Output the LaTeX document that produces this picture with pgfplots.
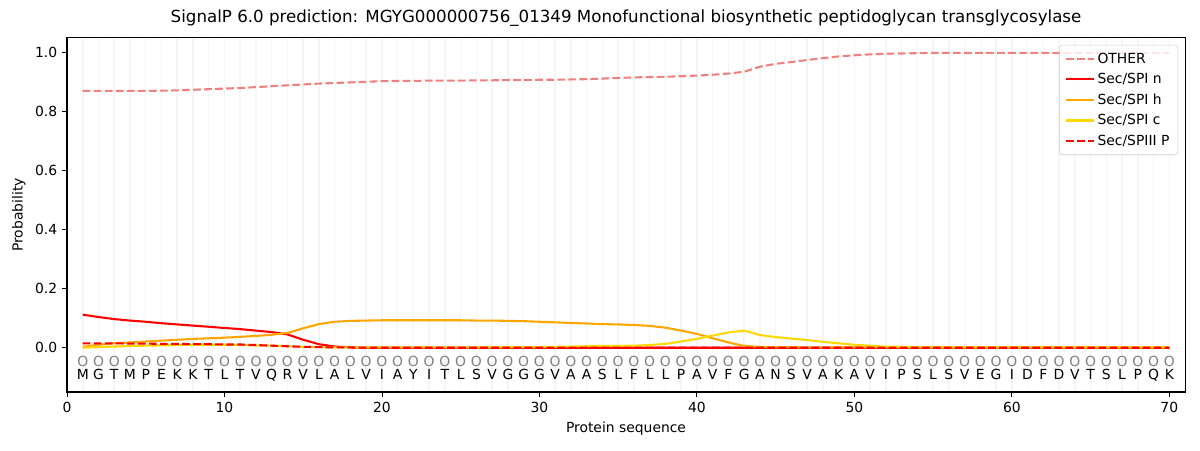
\documentclass[border=0pt]{standalone}
\usepackage{pgfplots}
\pgfplotsset{compat=1.18}
\usepackage{pgfplotstable}
\usepackage{fontspec}
\setmainfont{DejaVu Sans}
\definecolor{lcoral}{HTML}{F08080}
\definecolor{mplorange}{HTML}{FFA500}
\definecolor{mplgold}{HTML}{FFD700}

\pgfplotstableread{
x other n h c p
1 0.870 0.112 0.003 0.000 0.015
2 0.870 0.104 0.010 0.002 0.015
3 0.870 0.097 0.015 0.004 0.015
4 0.870 0.092 0.018 0.006 0.014
5 0.870 0.088 0.021 0.007 0.014
6 0.871 0.083 0.024 0.008 0.013
7 0.872 0.079 0.027 0.009 0.013
8 0.874 0.075 0.030 0.010 0.012
9 0.876 0.071 0.032 0.010 0.012
10 0.878 0.067 0.034 0.010 0.011
11 0.880 0.063 0.037 0.009 0.011
12 0.883 0.058 0.040 0.008 0.009
13 0.886 0.053 0.044 0.007 0.007
14 0.889 0.045 0.050 0.005 0.005
15 0.892 0.027 0.066 0.003 0.003
16 0.895 0.012 0.080 0.002 0.002
17 0.897 0.004 0.088 0.001 0.001
18 0.899 0.001 0.091 0.001 0.001
19 0.901 0.000 0.092 0.001 0.000
20 0.903 0.000 0.093 0.001 0.000
21 0.904 0.000 0.093 0.001 0.000
22 0.904 0.000 0.093 0.001 0.000
23 0.905 0.000 0.093 0.001 0.000
24 0.905 0.000 0.093 0.001 0.000
25 0.905 0.000 0.093 0.001 0.000
26 0.906 0.000 0.092 0.001 0.000
27 0.906 0.000 0.092 0.001 0.000
28 0.907 0.000 0.091 0.002 0.000
29 0.907 0.000 0.090 0.002 0.000
30 0.908 0.000 0.088 0.002 0.000
31 0.908 0.000 0.086 0.003 0.000
32 0.909 0.000 0.084 0.004 0.000
33 0.910 0.000 0.082 0.005 0.000
34 0.912 0.000 0.080 0.006 0.000
35 0.914 0.000 0.079 0.006 0.000
36 0.916 0.000 0.077 0.007 0.000
37 0.917 0.000 0.074 0.009 0.000
38 0.918 0.000 0.068 0.013 0.000
39 0.920 0.000 0.058 0.021 0.000
40 0.922 0.000 0.047 0.030 0.000
41 0.925 0.000 0.032 0.041 0.000
42 0.929 0.000 0.018 0.052 0.000
43 0.935 0.000 0.006 0.058 0.000
44 0.952 0.000 0.003 0.043 0.000
45 0.962 0.000 0.002 0.036 0.000
46 0.968 0.000 0.002 0.031 0.000
47 0.975 0.000 0.001 0.026 0.000
48 0.981 0.000 0.001 0.020 0.000
49 0.987 0.000 0.001 0.015 0.000
50 0.991 0.000 0.001 0.010 0.000
51 0.994 0.000 0.001 0.007 0.000
52 0.996 0.000 0.001 0.004 0.000
53 0.997 0.000 0.001 0.003 0.000
54 0.998 0.000 0.001 0.002 0.000
55 0.999 0.000 0.001 0.001 0.000
56 0.999 0.000 0.001 0.001 0.000
57 0.999 0.000 0.001 0.001 0.000
58 0.999 0.000 0.001 0.001 0.000
59 0.999 0.000 0.001 0.001 0.000
60 0.999 0.000 0.001 0.001 0.000
61 0.999 0.000 0.001 0.001 0.000
62 0.999 0.000 0.001 0.001 0.000
63 0.998 0.000 0.001 0.001 0.000
64 0.998 0.000 0.001 0.001 0.000
65 0.998 0.000 0.001 0.001 0.000
66 0.998 0.000 0.001 0.001 0.000
67 0.998 0.000 0.001 0.001 0.000
68 0.998 0.000 0.001 0.001 0.000
69 0.998 0.000 0.001 0.001 0.000
70 0.998 0.000 0.001 0.001 0.000
}\probs

\pgfplotstableread{
x y l
1 -0.092 M
2 -0.092 G
3 -0.092 T
4 -0.092 M
5 -0.092 P
6 -0.092 E
7 -0.092 K
8 -0.092 K
9 -0.092 T
10 -0.092 L
11 -0.092 T
12 -0.092 V
13 -0.092 Q
14 -0.092 R
15 -0.092 V
16 -0.092 L
17 -0.092 A
18 -0.092 L
19 -0.092 V
20 -0.092 I
21 -0.092 A
22 -0.092 Y
23 -0.092 I
24 -0.092 T
25 -0.092 L
26 -0.092 S
27 -0.092 V
28 -0.092 G
29 -0.092 G
30 -0.092 G
31 -0.092 V
32 -0.092 A
33 -0.092 A
34 -0.092 S
35 -0.092 L
36 -0.092 F
37 -0.092 L
38 -0.092 L
39 -0.092 P
40 -0.092 A
41 -0.092 V
42 -0.092 F
43 -0.092 G
44 -0.092 A
45 -0.092 N
46 -0.092 S
47 -0.092 V
48 -0.092 A
49 -0.092 K
50 -0.092 A
51 -0.092 V
52 -0.092 I
53 -0.092 P
54 -0.092 S
55 -0.092 L
56 -0.092 S
57 -0.092 V
58 -0.092 E
59 -0.092 G
60 -0.092 I
61 -0.092 D
62 -0.092 F
63 -0.092 D
64 -0.092 V
65 -0.092 T
66 -0.092 S
67 -0.092 L
68 -0.092 P
69 -0.092 Q
70 -0.092 K
}\seq

\begin{document}
\begin{tikzpicture}
\path[use as bounding box] (-48.24pt,-41.76pt) rectangle (815.76pt,282.24pt);
\begin{axis}[
  at={(0,0)}, anchor=south west,
  scale only axis,
  width=805pt, height=255pt,
  xmin=0, xmax=71,
  ymin=-0.15, ymax=1.05,
  xtick={0,10,...,70},
  ytick={0,0.2,...,1.0},
  minor xtick={1,...,70},
  xminorgrids=true,
  minor grid style={color=black!4, line width=1.1pt},
  minor tick length=0pt,
  tick align=outside,
  major tick length=3.5pt,
  tick style={black, line width=0.6pt},
  xtick pos=bottom, ytick pos=left,
  axis line style={line width=0.8pt},
  yticklabel style={/pgf/number format/fixed, /pgf/number format/fixed zerofill, /pgf/number format/precision=1},
  /pgf/number format/assume math mode=true,
  ticklabel style={font=\fontsize{10}{12}\selectfont},
  label style={font=\fontsize{10}{12}\selectfont},
  xlabel={Protein sequence},
  ylabel={Probability},
  title={SignalP 6.0 prediction: MGYG000000756\_01349 Monofunctional biosynthetic peptidoglycan transglycosylase},
  title style={font=\fontsize{12}{14}\selectfont, yshift=-1pt},
  legend style={at={(1,1)}, anchor=north east, xshift=-5pt, yshift=-5pt,
    draw=black!20, fill=white, fill opacity=0.8, text opacity=1,
    rounded corners=2pt, font=\fontsize{10}{12}\selectfont,
    row sep=1.8pt, inner xsep=4pt, inner ysep=3.5pt},
  legend cell align=left,
  legend image code/.code={\draw[#1] (0pt,0pt) -- (20pt,0pt);},
  clip=false,
]
\addplot[lcoral, line width=1.5pt, dash pattern=on 5.55pt off 2.4pt] table[x=x, y=other] {\probs};
\addlegendentry{OTHER}
\addplot[red, line width=1.5pt] table[x=x, y=n] {\probs};
\addlegendentry{Sec/SPI n}
\addplot[mplorange, line width=1.5pt] table[x=x, y=h] {\probs};
\addlegendentry{Sec/SPI h}
\addplot[mplgold, line width=1.5pt] table[x=x, y=c] {\probs};
\addlegendentry{Sec/SPI c}
\addplot[red, line width=1.5pt, dash pattern=on 5.55pt off 2.4pt] table[x=x, y=p] {\probs};
\addlegendentry{Sec/SPIII P}
\addplot[draw=none, mark=none, forget plot,
  nodes near coords, nodes near coords align=center,
  point meta=explicit symbolic,
  every node near coord/.append style={font=\fontsize{10}{12}\selectfont, text=black, inner sep=0pt, anchor=center}]
  table[x=x, y=y, meta=l] {\seq};
\addplot[draw=none, mark=none, forget plot,
  nodes near coords={O}, nodes near coords align=center,
  every node near coord/.append style={font=\fontsize{10}{12}\selectfont, text=gray, inner sep=0pt, anchor=center}]
  table[x=x, y expr=-0.045] {\seq};
\end{axis}
\end{tikzpicture}
\end{document}
